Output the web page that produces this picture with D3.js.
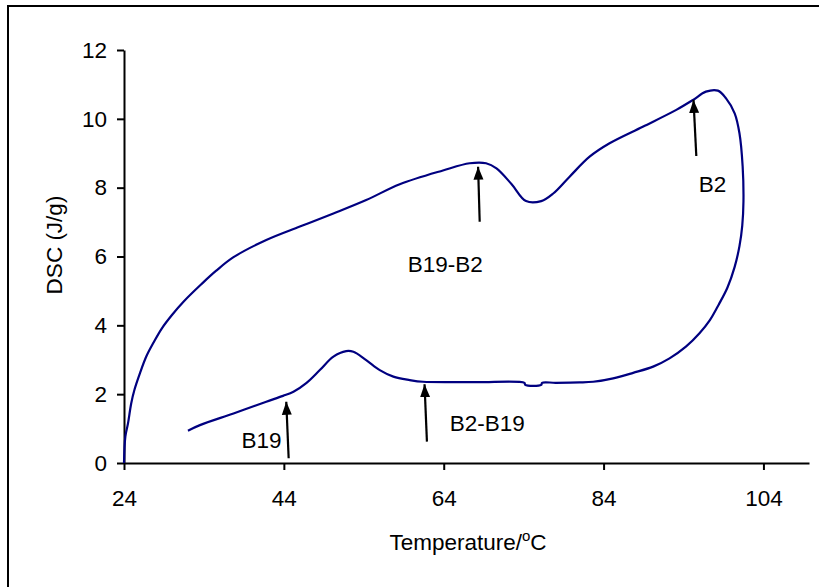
<!DOCTYPE html>
<html>
<head>
<meta charset="utf-8">
<script src="https://cdn.jsdelivr.net/npm/d3@7"></script>
<style>
  body { margin: 0; background: #fff; }
  svg { display: block; font-family: "Liberation Sans", Arial, sans-serif; }
</style>
</head>
<body>
<div id="chart"></div>
<script>
// DSC loop: heating branch then cooling branch
var tempC = [24, 24.17, 24.5, 24.9, 25.3, 26, 26.8, 27.7, 28.7, 30, 31.5, 33.7, 35.5, 37.7, 41.8,
  46, 50.2, 54.3, 58.5, 63.9, 67.25, 69.3, 70.6, 72.5, 74.3, 76.2, 77.7, 79.75, 82.25, 84.75, 88.9,
  93.1, 95.2, 96.8, 98.3, 99.3, 100.4, 101, 101.4, 101.5, 101.35, 101, 100.4, 99.5, 98.4, 97.3, 96, 94.3,
  92.25, 90.2, 87.7, 85.2, 82.7, 81, 78, 76.3, 76.2, 74.2, 74.1, 68, 61.4, 59.75, 57.7, 56, 54.3,
  52.7, 51.8, 50.2, 48.5, 46.8, 45.2, 43.9, 41.8, 37.7, 33.5, 32];
var dscJg = [0, 0.77, 1.15, 1.73, 2.12, 2.61, 3.1, 3.5, 3.9, 4.3, 4.7, 5.2, 5.58, 5.98, 6.48,
  6.87, 7.25, 7.64, 8.1, 8.5, 8.71, 8.71, 8.56, 8.1, 7.61, 7.61, 7.83, 8.32, 8.9, 9.29, 9.77,
  10.26, 10.55, 10.79, 10.82, 10.6, 10.16, 9.58, 8.61, 7.6, 6.9, 6.3, 5.7, 5.1, 4.6, 4.15, 3.77, 3.38,
  3.04, 2.8, 2.62, 2.46, 2.36, 2.34, 2.33, 2.33, 2.27, 2.27, 2.33, 2.35, 2.36, 2.41, 2.51, 2.7, 2.99,
  3.23, 3.25, 3.09, 2.7, 2.32, 2.07, 1.95, 1.78, 1.44, 1.1, 0.94];

var xTicks = [24, 44, 64, 84, 104];
var yTicks = [0, 2, 4, 6, 8, 10, 12];

// annotations: label, arrow tail (T, DSC), arrow tip (T, DSC), label anchor (T, DSC)
var noteLabels = ["B19-B2", "B2", "B19", "B2-B19"];
var noteTail = [[68.5, 7.01], [95.6, 8.92], [44.6, 0.14], [61.9, 0.62]];
var noteTip = [[68.3, 8.61], [95.25, 10.55], [44.3, 1.78], [61.6, 2.29]];
var noteText = [[59.5, 5.56], [95.9, 7.87], [38.7, 0.43], [64.75, 0.93]];

var W = 819, H = 587;
var fs = "22.5px";
var svg = d3.select("#chart").append("svg")
  .attr("width", W)
  .attr("height", H);

// outer frame (runs past the right and bottom edge)
svg.append("rect")
  .attr("x", 8).attr("y", 6)
  .attr("width", 840).attr("height", 620)
  .attr("fill", "none")
  .attr("stroke", "#000")
  .attr("stroke-width", 2);

var x = d3.scaleLinear().domain([24, 109.7]).range([124, 809]);
var y = d3.scaleLinear().domain([0, 12]).range([463, 50]);

// axes
var xAxis = svg.append("g")
  .attr("transform", "translate(0," + y(0) + ")")
  .call(d3.axisBottom(x).tickValues(xTicks).tickSize(7).tickPadding(20).tickSizeOuter(0));
var yAxis = svg.append("g")
  .attr("transform", "translate(" + x(24) + ",0)")
  .call(d3.axisLeft(y).tickValues(yTicks).tickSize(7).tickPadding(10).tickSizeOuter(0));

[xAxis, yAxis].forEach(function(g) {
  g.select(".domain").attr("stroke", "#000").attr("stroke-width", 2);
  g.selectAll(".tick line").attr("stroke", "#000").attr("stroke-width", 2);
  g.selectAll(".tick text")
    .attr("fill", "#000")
    .style("font-size", fs)
    .style("font-family", "Liberation Sans, Arial, sans-serif");
});

// axis titles
var xt = svg.append("text")
  .attr("x", 468).attr("y", 550)
  .attr("text-anchor", "middle")
  .style("font-size", fs)
  .text("Temperature/");
xt.append("tspan").attr("dy", -9).style("font-size", "15px").text("o");
xt.append("tspan").attr("dy", 9).text("C");

svg.append("text")
  .attr("transform", "translate(62,245) rotate(-90)")
  .attr("text-anchor", "middle")
  .style("font-size", fs)
  .text("DSC (J/g)");

// curve
var pts = tempC.map(function(t, i) { return [t, dscJg[i]]; });
var line = d3.line()
  .x(function(d) { return x(d[0]); })
  .y(function(d) { return y(d[1]); })
  .curve(d3.curveCatmullRom.alpha(0.5));

svg.append("path")
  .datum(pts)
  .attr("d", line)
  .attr("fill", "none")
  .attr("stroke", "#000080")
  .attr("stroke-width", 2.2);

// arrows
svg.append("defs").append("marker")
  .attr("id", "arrow")
  .attr("markerUnits", "userSpaceOnUse")
  .attr("markerWidth", 14)
  .attr("markerHeight", 14)
  .attr("viewBox", "0 0 14 14")
  .attr("refX", 13)
  .attr("refY", 7)
  .attr("orient", "auto")
  .append("path")
  .attr("d", "M0,2 L13,7 L0,12 Z")
  .attr("fill", "#000");

noteLabels.forEach(function(lab, i) {
  svg.append("line")
    .attr("x1", x(noteTail[i][0])).attr("y1", y(noteTail[i][1]))
    .attr("x2", x(noteTip[i][0])).attr("y2", y(noteTip[i][1]))
    .attr("stroke", "#000")
    .attr("stroke-width", 2.2)
    .attr("marker-end", "url(#arrow)");
  svg.append("text")
    .attr("x", x(noteText[i][0]))
    .attr("y", y(noteText[i][1]))
    .style("font-size", fs)
    .text(lab);
});
</script>
</body>
</html>
